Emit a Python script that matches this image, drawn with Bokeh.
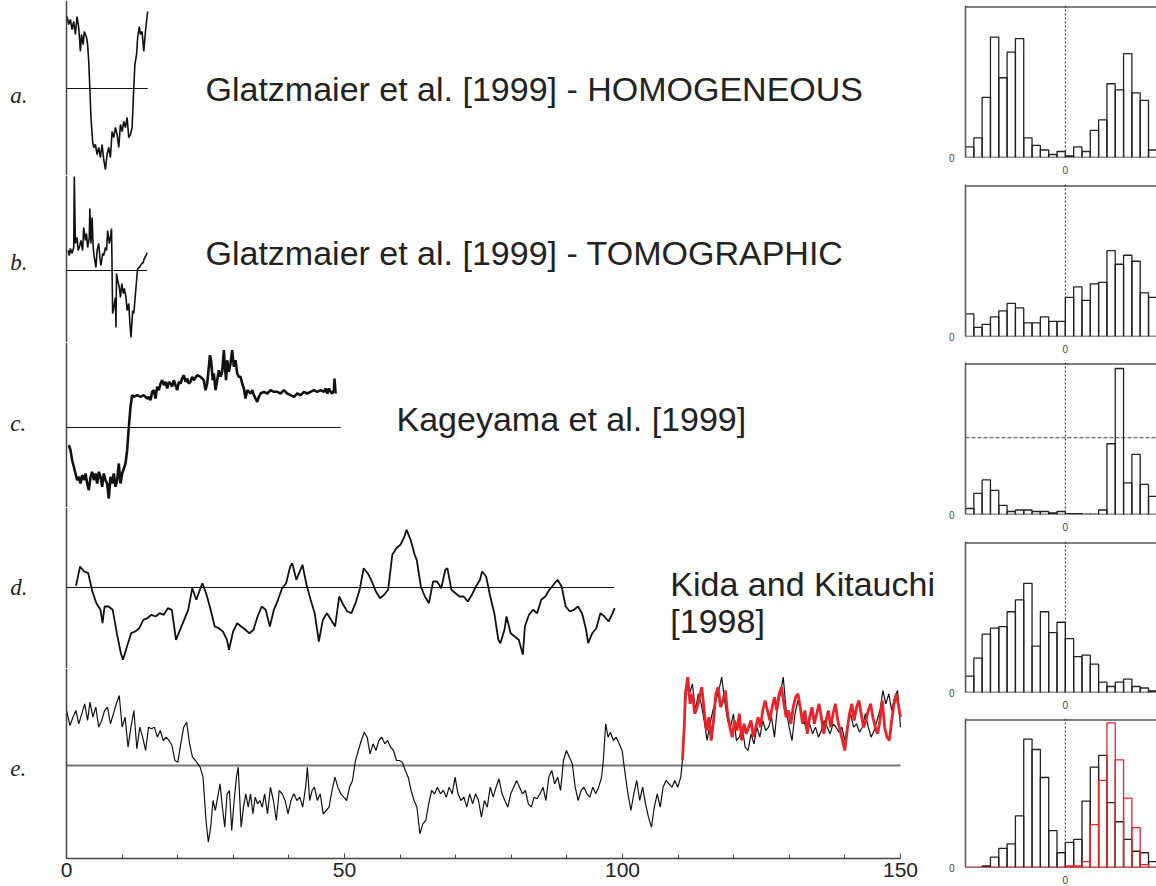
from bokeh.plotting import figure
from bokeh.layouts import row, column
from bokeh.models import Range1d, Span, LinearAxis, FixedTicker, SingleIntervalTicker
from bokeh.core.properties import value
from bokeh.embed import file_html
from bokeh.resources import INLINE

# ---------------- data ----------------
panel_labels = ["a.", "b.", "c.", "d.", "e."]
titles = ["Glatzmaier et al. [1999] - HOMOGENEOUS",
          "Glatzmaier et al. [1999] - TOMOGRAPHIC",
          "Kageyama et al. [1999]",
          "Kida and Kitauchi", "[1998]"]
time_ticks = [0, 50, 100, 150]

ta = [0.1,0.4,0.7,1.0,1.3,1.6,1.9,2.2,2.5,2.7,3.0,3.2,3.6,3.8,4.0,4.2,4.4,4.7,4.9,5.2,
      5.5,5.8,6.1,6.4,6.7,7.0,7.3,7.6,7.9,8.2,8.5,8.8,9.1,9.4,9.7,10.0,10.3,10.6,10.9,11.2,
      11.5,11.8,12.1,12.3,12.6,12.8,13.1,13.3,13.6,13.9,14.2,14.4,14.6]
va = [7.2,6.4,6.9,5.9,6.7,5.4,7.2,6.1,3.7,5.4,4.4,5.7,5.1,4.4,2.7,0,-2.9,-5.3,-5.9,-5.6,
      -6.6,-5.9,-6.9,-5.6,-7.1,-8.1,-6.6,-5.9,-6.9,-4.3,-4.9,-3.9,-4.6,-5.9,-3.6,-4.3,-3.3,-3.9,-2.9,-4.9,
      -4.6,-3.9,0.1,2.4,3.4,5.1,6.2,5.4,5.7,3.7,5.7,6.7,7.7]

tb = [0.3,0.5,0.7,1.0,1.3,1.4,1.6,1.9,2.1,2.4,2.6,2.9,3.1,3.4,3.6,3.8,4.1,4.2,4.4,4.6,
      4.8,5.0,5.3,5.5,5.8,6.0,6.2,6.5,6.7,7.0,7.2,7.4,7.7,7.9,8.1,8.2,8.3,8.5,8.8,8.9,
      9.0,9.2,9.5,9.7,9.95,10.2,10.4,10.7,10.9,11.2,11.4,11.6,11.9,12.1,12.35,12.6,12.8,13.1,13.3,13.55,
      13.8,14.0,14.3,14.5]
vb = [2.0,1.5,2.2,1.7,2.3,9.4,2.7,3.3,2.0,2.5,3.0,2.0,4.3,3.0,3.7,2.3,3.3,6.2,2.7,5.3,
      2.3,1.3,0.3,2.0,2.7,1.3,0.5,1.7,1.5,2.3,2.0,4.0,2.7,3.3,4.2,0.0,-4.3,-3.7,-2.7,-5.7,
      -0.3,-1.0,-1.7,-2.7,-1.3,-2.3,-1.8,-2.7,-4.0,-3.3,-5.3,-6.7,-4.0,-4.3,-2.7,-1.0,0.2,0.3,0.5,0.7,
      0.8,1.2,1.5,1.8]

tc = [0.42,0.72,1.02,1.32,1.62,1.92,2.22,2.52,2.82,3.12,
      3.42,3.72,4.02,4.32,4.62,4.92,5.22,5.52,5.82,6.12,
      6.41,6.71,7.01,7.31,7.61,7.91,8.21,8.51,8.81,9.11,
      9.41,9.71,10.01,10.31,10.61,10.91,11.21,11.51,11.81,12.11,
      12.71,13.31,13.91,14.51,14.81,15.11,15.41,15.71,16.01,16.31,
      16.61,16.91,17.21,17.51,17.81,18.11,18.41,18.71,19.0,19.3,
      19.6,19.9,20.2,20.5,20.8,21.1,21.4,21.7,22.0,22.3,
      22.6,22.9,23.5,24.1,24.7,25.0,25.3,25.6,25.8,26.0,
      26.3,26.5,26.8,27.1,27.4,27.7,28.0,28.3,28.5,28.7,
      28.9,29.2,29.5,29.8,30.1,30.4,30.7,31.0,31.3,31.6,
      31.9,32.2,32.5,32.8,33.1,33.4,33.7,34.0,34.3,34.6,
      34.9,35.5,36.1,36.7,37.3,37.9,38.5,39.1,39.7,40.3,
      40.9,41.5,42.1,42.7,43.3,43.9,44.5,45.1,45.7,46.3,
      46.6,46.9,47.2,47.5,47.8,48.1,48.2,48.4]
vc = [-1.77,-2.27,-3.27,-3.93,-4.6,-5.27,-4.93,-5.6,-4.77,-5.27,
      -4.6,-5.6,-6.27,-4.93,-4.43,-5.27,-4.6,-5.6,-4.43,-4.93,
      -5.93,-4.6,-5.27,-5.6,-7.1,-4.93,-5.6,-4.6,-5.93,-5.27,
      -3.6,-5.6,-4.6,-4.1,-3.6,-2.27,0.07,2.07,3.23,3.07,
      3.23,3.07,3.23,2.9,3.07,2.73,3.57,3.73,2.9,4.07,
      3.73,4.4,4.73,4.23,4.57,3.9,4.57,4.4,4.07,4.73,
      4.23,3.73,4.57,4.4,4.9,5.23,4.57,4.9,4.4,4.57,
      5.07,4.73,5.23,5.07,4.73,3.73,4.4,6.07,7.23,6.73,
      4.73,5.4,3.73,4.73,5.73,5.07,5.57,7.73,6.07,4.73,
      6.73,5.57,6.4,7.73,6.07,6.73,5.4,5.07,5.07,4.4,
      3.9,2.9,3.73,3.57,3.4,3.73,3.23,2.9,2.57,3.07,
      3.4,3.57,3.4,3.73,3.57,3.57,3.4,3.73,3.4,3.23,
      3.07,3.4,3.23,3.57,3.4,3.57,3.73,3.57,3.73,3.57,
      3.9,3.4,3.9,3.57,3.4,3.73,4.9,3.4]

td = [1.71,2.44,3.18,3.91,4.65,5.38,6.11,6.48,6.85,7.58,
      8.31,9.05,9.78,10.15,10.88,11.62,12.35,13.08,13.82,14.55,
      15.29,16.02,16.75,17.49,18.22,18.95,19.69,20.42,21.16,21.89,
      22.62,23.36,24.09,24.46,25.19,25.93,26.66,27.39,28.13,28.86,
      29.23,29.96,30.7,31.43,32.17,32.9,33.63,34.37,35.1,35.83,
      36.57,37.3,38.04,38.77,39.5,40.24,40.6,41.34,42.44,43.17,
      43.91,44.64,45.38,46.11,46.84,47.58,48.31,49.05,49.78,50.51,
      51.25,51.98,52.72,53.45,54.18,54.92,55.65,56.39,57.12,57.85,
      58.59,59.32,60.06,60.79,61.16,61.89,62.62,62.99,63.73,64.46,
      65.19,65.93,66.66,67.4,68.13,68.5,69.23,69.97,70.7,71.43,
      72.17,72.9,73.64,74.37,74.74,75.47,76.21,76.94,77.67,78.04,
      78.77,79.14,79.88,80.61,81.34,82.08,82.44,83.18,83.91,84.65,
      85.38,86.11,86.85,87.58,88.32,89.05,89.78,90.52,91.25,91.99,
      92.72,93.45,93.82,94.56,95.29,96.02,96.76,97.49,98.23,98.59]
vd = [0.17,2.1,1.6,1.43,-0.4,-1.57,-2.23,-3.57,-1.9,-1.9,
      -2.23,-4.57,-6.57,-7.23,-5.9,-4.57,-4.4,-4.07,-3.23,-3.07,
      -2.73,-2.9,-2.57,-2.73,-2.07,-2.23,-5.23,-4.23,-3.23,-2.23,
      -0.07,-1.23,-0.07,0.43,-0.73,-2.23,-3.9,-4.07,-4.4,-5.23,
      -6.23,-4.4,-3.57,-3.9,-4.23,-4.57,-4.23,-2.9,-1.9,-2.23,
      -3.9,-2.23,-1.23,-0.07,0.43,2.1,2.43,0.77,2.27,0.27,
      -1.23,-2.57,-5.4,-3.23,-2.57,-3.23,-3.9,-0.9,-1.73,-2.4,
      -2.57,-1.57,-0.23,1.93,1.43,0.6,-0.4,-1.07,-0.73,-0.23,
      3.27,3.93,4.27,5.1,5.77,4.77,3.27,2.77,0.1,-0.9,
      -1.57,0.6,0.6,-0.07,1.77,1.93,-0.23,-0.57,-0.9,-0.9,
      -1.4,-0.73,0.1,0.77,1.6,1.1,-0.9,-2.57,-5.23,-5.57,
      -4.23,-2.9,-4.57,-4.9,-5.23,-6.73,-3.9,-2.73,-2.23,-2.57,
      -1.23,-0.9,-0.23,0.27,0.77,0.1,-1.9,-2.4,-2.23,-1.9,
      -2.57,-4.23,-5.57,-4.57,-4.07,-2.57,-2.9,-3.4,-2.57,-2.07]

te = [0.0,0.63,1.16,1.69,2.21,2.74,3.27,3.79,4.22,4.74,
      5.27,5.8,6.32,6.85,7.38,7.91,8.43,8.96,9.49,10.01,
      10.54,11.07,11.59,12.12,12.65,13.18,13.7,14.23,14.76,15.28,
      15.81,16.34,16.87,17.39,17.92,18.45,18.97,19.5,20.03,20.55,
      21.08,21.61,22.14,22.66,23.19,24.03,24.56,25.09,25.51,25.93,
      26.35,26.77,27.19,27.62,28.04,28.46,28.88,29.3,29.72,30.15,
      30.57,30.88,31.41,31.83,32.25,32.68,33.1,33.52,33.94,34.36,
      34.78,35.21,35.63,36.15,36.68,37.21,37.74,38.26,38.79,39.32,
      39.84,40.37,40.9,41.43,41.95,42.48,43.01,43.32,43.74,44.17,
      44.59,45.11,45.64,46.17,46.7,47.22,47.75,48.28,48.8,49.33,
      49.86,50.38,50.91,51.44,51.97,52.49,53.02,53.55,54.07,54.6,
      55.13,55.66,56.18,56.71,57.24,57.76,58.29,58.82,59.34,59.87,
      60.4,60.93,61.45,61.98,62.51,63.03,63.56,64.09,64.62,65.14,
      65.67,66.2,66.72,67.25,67.78,68.3,68.83,69.36,69.89,70.41,
      70.94,71.47,71.99,72.52,73.05,73.57,74.1,74.63,75.16,75.68,
      76.21,76.74,77.26,77.79,78.32,78.84,79.37,79.9,80.43,80.95,
      81.48,82.01,82.53,83.06,83.59,84.11,84.64,85.17,85.7,86.22,
      86.75,87.28,87.8,88.33,88.86,89.38,89.91,90.44,90.97,91.49,
      92.02,92.55,93.07,93.6,94.13,94.66,95.18,95.71,96.24,96.55,
      96.98,97.4,97.82,98.35,98.87,99.4,99.93,100.24,100.56,100.98,
      101.51,102.03,102.56,103.09,103.62,104.14,104.67,105.2,105.72,106.25,
      106.78,107.3,107.83,108.36,108.89,109.41,109.94,110.47,110.78,110.99,
      111.52,112.05,112.57,113.1,113.63,114.16,114.68,115.21,115.74,116.26,
      116.79,117.32,117.84,118.37,118.9,119.43,119.95,120.48,121.01,121.53,
      122.06,122.59,123.11,123.64,124.17,124.7,125.22,125.75,126.28,126.8,
      127.33,127.86,128.39,128.91,129.44,129.97,130.49,131.02,131.55,132.07,
      132.6,133.13,133.66,134.18,134.71,135.24,135.76,136.29,136.82,137.34,
      137.87,138.4,138.93,139.45,139.98,140.51,141.03,141.56,142.09,142.62,
      143.14,143.67,144.2,144.72,145.25,145.78,146.3,146.83,147.36,147.89,
      148.41,148.94,149.47,150.0]
ve = [5.5,4.0,4.83,5.5,4.17,5.17,6.17,4.5,6.33,4.83,
      5.83,3.83,4.5,5.5,5.83,4.17,5.17,6.17,7.0,3.83,
      4.83,1.83,3.83,5.5,1.67,3.83,2.83,1.5,3.83,3.67,
      3.83,2.83,3.5,2.5,2.83,2.5,2.0,0.5,0.33,2.17,
      3.83,4.33,2.17,0.83,0.5,-0.17,-1.17,-5.5,-7.67,-6.17,
      -3.5,-4.5,-3.17,-1.83,-4.17,-6.17,-2.83,-2.5,-6.5,-3.5,
      -1.17,-0.17,-6.17,-4.17,-2.83,-4.17,-2.83,-4.83,-3.17,-3.83,
      -3.5,-4.17,-2.83,-4.83,-2.17,-3.5,-5.5,-2.5,-2.83,-3.5,
      -4.83,-3.5,-2.83,-3.5,-3.17,-4.17,-2.17,-0.17,-3.5,-2.5,
      -2.17,-3.5,-2.83,-4.83,-4.5,-4.17,-2.5,-1.17,-2.17,-2.83,
      -3.17,-3.5,-2.17,-1.5,0.5,1.5,2.5,3.33,2.83,1.17,
      2.17,1.5,2.5,2.83,2.17,2.5,1.83,1.5,0.5,0.5,
      0.33,-0.5,-1.17,-2.5,-3.5,-4.17,-6.83,-5.83,-5.5,-3.83,
      -2.5,-2.83,-2.17,-2.83,-2.5,-3.17,-2.17,-2.83,-1.17,-2.83,
      -3.5,-3.17,-4.17,-2.83,-3.83,-2.83,-3.5,-5.17,-3.5,-4.17,
      -2.17,-3.17,-2.17,-1.33,-2.83,-3.5,-4.17,-2.83,-2.17,-1.5,
      -2.17,-2.83,-2.5,-3.83,-4.17,-3.17,-3.33,-2.83,-2.17,-3.5,
      -1.17,-0.5,-1.83,-1.17,-2.5,0.5,1.5,0.83,0.17,-2.17,
      -3.5,-2.5,-2.17,-2.83,-3.17,-2.17,-2.83,-2.17,-1.17,0.5,
      4.17,2.83,3.33,2.5,2.83,2.17,1.5,0.17,-1.17,-2.83,
      -4.5,-2.83,-1.5,-3.5,-2.17,-3.83,-5.17,-6.17,-4.17,-2.83,
      -4.17,-2.17,-1.5,-1.83,-2.17,-1.5,-2.17,-1.17,0.5,3.17,
      7.83,7.17,8.17,5.5,7.17,6.17,4.5,2.5,4.17,5.5,
      6.5,7.5,8.83,6.5,4.5,3.83,5.17,2.5,2.83,3.83,
      1.83,1.5,3.17,2.17,3.83,2.83,4.5,3.5,3.83,4.83,
      2.83,5.83,7.17,8.83,5.5,3.83,2.5,5.17,6.5,5.5,
      4.5,3.5,4.17,3.17,3.83,2.83,3.5,4.5,3.83,3.17,
      4.17,3.83,3.33,3.83,2.5,4.17,5.17,3.83,4.17,3.33,
      3.83,5.17,3.83,2.83,3.5,4.5,5.5,7.5,6.17,7.17,
      5.5,6.83,7.5,3.83]

tr = [110.78,111.1,111.31,111.73,112.15,112.57,113.0,113.42,113.84,114.26,
      114.68,115.1,115.53,115.95,116.37,116.79,117.21,117.63,118.06,118.48,
      118.9,119.32,119.74,120.16,120.59,121.01,121.43,121.85,122.27,122.69,
      123.11,123.54,123.96,124.38,124.8,125.22,125.64,126.07,126.49,126.91,
      127.33,127.75,128.17,128.6,129.02,129.44,129.86,130.28,130.7,131.13,
      131.55,131.97,132.39,132.81,133.23,133.66,134.08,134.5,134.92,135.34,
      135.76,136.19,136.61,137.03,137.45,137.87,138.29,138.72,139.14,139.56,
      139.98,140.4,140.82,141.25,141.67,142.09,142.51,142.93,143.35,143.78,
      144.2,144.62,145.04,145.46,145.88,146.3,146.73,147.15,147.57,147.99,
      148.41,148.83,149.26,149.68,150.0]
vr = [0.5,3.83,7.17,8.83,6.17,7.17,5.17,5.83,6.83,7.83,
      5.5,3.5,4.83,2.5,4.5,7.17,7.83,5.83,6.5,7.5,
      5.17,3.83,2.83,4.5,3.5,5.17,2.5,4.17,3.17,3.83,
      4.5,2.83,3.83,4.83,3.83,5.5,6.5,5.5,4.5,5.83,
      6.83,5.5,7.17,7.83,6.17,4.83,5.5,4.17,5.83,6.83,
      7.17,5.83,4.17,5.5,3.17,4.83,5.83,4.17,5.17,6.17,
      4.83,3.17,4.5,5.5,3.83,5.17,6.17,4.5,3.5,2.5,
      1.5,3.5,5.17,6.17,4.5,5.83,6.5,5.17,3.83,4.5,
      5.5,6.17,4.83,3.83,3.17,4.5,6.5,3.83,2.83,2.5,
      4.5,6.17,7.17,5.83,4.83]

# histograms (percent of panel height), 23 bins, edges -12..11, zero at edge 0
bin_edges = list(range(-12, 12))
hist_a = [7,13,40,80,53,70,79,13,8,5,2,4,1,7,4,18,25,49,45,69,43,38,5]
hist_b = [15,6,8,13,17,22,19,9,9,13,10,10,26,33,24,35,36,57,48,54,50,29,26]
hist_c = [4,14,23,16,6,2,3,3,2,2,1,2,0.5,0.5,0.3,0.3,3,47,97,21,40,20,12]
hist_d = [11,23,39,43,44,54,62,73,31,54,40,47,36,24,25,19,7,4,7,9,4,3,1]
hist_e = [0,0,1,7,13,16,35,87,80,61,25,10,17,19,45,68,76,44,31,19,11,10,4]
hist_e_red = [0,0,0,0,0,0,0,0,0,0,0,0,1,1,4,29,59,98,73,47,27,2,0]
hist_c_level = 51

RED = "#e8232a"
SANS = "Liberation Sans"
SERIF = "Liberation Serif"

# ---------------- left: time series ----------------
x_rng = Range1d(-11.87, 158.09)


def ts_fig(fh, y0, y1, mb_bottom=0):
    p = figure(frame_width=945, frame_height=fh, x_range=x_rng, y_range=Range1d(y0, y1),
               output_backend="svg", toolbar_location=None, min_border=0,
               min_border_bottom=mb_bottom, x_axis_location=None, y_axis_location=None)
    p.grid.visible = False
    p.outline_line_color = None
    p.add_layout(Span(location=0, dimension="height", line_color="#444", line_width=1.5))
    return p


def label(p, txt, y):
    p.text(x=[-10.1], y=[y], text=[txt], text_font=value(SERIF), text_font_style="italic",
           text_font_size="23px", text_color="#222", text_baseline="middle", text_align="left")


def title(p, txt, x, y):
    p.text(x=[x], y=[y], text=[txt], text_font=value(SANS), text_font_size="34px",
           text_color="#222", text_baseline="middle", text_align="left")


pa = ts_fig(175, -8.7, 8.8)
pa.line([0, max(ta)], [0, 0], line_color="#111", line_width=1)
pa.line(ta, va, line_color="#111", line_width=1.6)
label(pa, panel_labels[0], -0.7)
title(pa, titles[0], 25.0, 0.0)

pb = ts_fig(167, -7.2, 9.5)
pb.line([0, max(tb)], [0, 0], line_color="#111", line_width=1)
pb.line(tb, vb, line_color="#111", line_width=1.6)
label(pb, panel_labels[1], 0.8)
title(pb, titles[1], 25.0, 1.8)

pc = ts_fig(165, -8.0, 8.5)
pc.line([0, 49.3], [0, 0], line_color="#111", line_width=1)
pc.line(tc, vc, line_color="#111", line_width=2.6)
label(pc, panel_labels[2], 0.4)
title(pc, titles[2], 59.35, 0.9)

pd_ = ts_fig(161, -8.1, 8.0)
pd_.line([0, 98.5], [0, 0], line_color="#111", line_width=1)
pd_.line(td, vd, line_color="#111", line_width=1.8)
label(pd_, panel_labels[3], 0.0)
title(pd_, titles[3], 108.6, 0.4)
title(pd_, titles[4], 108.6, -3.3)

pe = ts_fig(190, -9.3, 9.7, mb_bottom=26)
pe.line([0, 150], [0, 0], line_color="#777", line_width=1.8)
pe.line(te, ve, line_color="#111", line_width=1.2)
pe.line(tr, vr, line_color=RED, line_width=2.8)
label(pe, panel_labels[4], -0.3)
ax = LinearAxis(ticker=SingleIntervalTicker(interval=50, num_minor_ticks=5), bounds=(0, 150))
ax.major_tick_in = 5
ax.major_tick_out = 0
ax.minor_tick_in = 4
ax.minor_tick_out = 0
ax.axis_line_width = 1.5
ax.axis_line_color = "#444"
ax.major_tick_line_color = "#444"
ax.minor_tick_line_color = "#444"
ax.major_label_text_font = SANS
ax.major_label_text_font_size = "21px"
ax.major_label_text_color = "#222"
ax.major_label_standoff = 4
pe.add_layout(ax, "below")

# ---------------- right: histograms ----------------

def hist_fig(top_b, fh, bot_b, vals, red=None, level=None):
    p = figure(frame_width=193, frame_height=fh, x_range=Range1d(-12, 11.2), y_range=Range1d(0, 101),
               output_backend="svg", toolbar_location=None, min_border=0, min_border_left=18,
               min_border_top=top_b, min_border_bottom=bot_b,
               x_axis_location=None, y_axis_location=None)
    p.grid.visible = False
    p.outline_line_color = None
    yax = LinearAxis(ticker=FixedTicker(ticks=[0]))
    yax.axis_line_color = "#555"
    yax.axis_line_width = 1.5
    yax.major_tick_line_color = None
    yax.minor_tick_line_color = None
    yax.major_label_text_font = SANS
    yax.major_label_text_font_size = "10px"
    yax.major_label_text_color = "#444"
    yax.major_label_standoff = 5
    p.add_layout(yax, "left")
    xax = LinearAxis(ticker=FixedTicker(ticks=[0]))
    xax.axis_line_color = None
    xax.major_tick_line_color = None
    xax.minor_tick_line_color = None
    xax.major_label_text_font = SANS
    xax.major_label_text_font_size = "10px"
    xax.major_label_text_color = "#444"
    xax.major_label_standoff = 2
    p.add_layout(xax, "below")
    p.add_layout(Span(location=100, dimension="width", line_color="#555", line_width=1.5))
    p.add_layout(Span(location=0, dimension="height", line_color="#222", line_width=1, line_dash="2 2"))
    if level is not None:
        p.add_layout(Span(location=level, dimension="width", line_color="#444", line_width=1,
                          line_dash="4 2"))
    p.quad(left=bin_edges[:-1], right=bin_edges[1:], bottom=0, top=vals,
           fill_color=None, line_color="#222", line_width=1.3)
    if red is not None:
        p.quad(left=bin_edges[:-1], right=bin_edges[1:], bottom=0, top=red,
               fill_color=None, line_color=RED, line_width=1.3)
    return p


ha = hist_fig(5, 152, 21, hist_a)
hb = hist_fig(6, 152, 20, hist_b)
hc = hist_fig(6, 152, 20, hist_c, level=hist_c_level)
hd = hist_fig(7, 151, 20, hist_d)
he = hist_fig(6, 149, 17, hist_e, red=hist_e_red)

layout = row(column(pa, pb, pc, pd_, pe), column(ha, hb, hc, hd, he))
open("out.html", "w").write(file_html(layout, INLINE))
